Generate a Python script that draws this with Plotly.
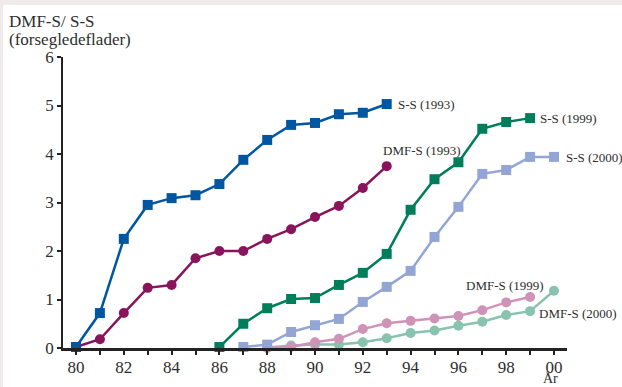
import plotly.graph_objects as go

# ---- data ----
years_a = list(range(80, 94))           # 1980..1993
ss_1993 = [0.02, 0.72, 2.25, 2.95, 3.09, 3.15, 3.38, 3.88, 4.29, 4.60, 4.64, 4.82, 4.85, 5.03]
dmf_1993 = [0.02, 0.18, 0.72, 1.24, 1.30, 1.85, 2.00, 2.00, 2.25, 2.45, 2.70, 2.93, 3.30, 3.75]

years_ss99 = list(range(86, 100))
ss_1999 = [0.02, 0.50, 0.82, 1.01, 1.03, 1.30, 1.55, 1.94, 2.85, 3.48, 3.83, 4.52, 4.66, 4.74]

years_ss00 = list(range(87, 101))
ss_2000 = [0.02, 0.07, 0.33, 0.47, 0.60, 0.95, 1.26, 1.59, 2.29, 2.91, 3.59, 3.67, 3.94, 3.94]

years_dmf99 = list(range(88, 100))
dmf_1999 = [0.0, 0.02, 0.12, 0.19, 0.39, 0.51, 0.56, 0.61, 0.66, 0.78, 0.94, 1.05]

years_dmf00 = list(range(88, 101))
dmf_2000 = [0.01, 0.05, 0.07, 0.07, 0.12, 0.20, 0.31, 0.36, 0.46, 0.54, 0.68, 0.76, 1.18]

tick_years = list(range(80, 101))
tick_text = [("%02d" % (y % 100)) if y % 2 == 0 else "" for y in tick_years]

series = [
    (years_dmf00, dmf_2000, "DMF-S (2000)", "#87c3af", "circle"),
    (years_dmf99, dmf_1999, "DMF-S (1999)", "#cf93b8", "circle"),
    (years_ss00, ss_2000, "S-S (2000)", "#92a5d5", "square"),
    (years_ss99, ss_1999, "S-S (1999)", "#007e5c", "square"),
    (years_a, dmf_1993, "DMF-S (1993)", "#89145c", "circle"),
    (years_a, ss_1993, "S-S (1993)", "#0056a0", "square"),
]

FONT = "Liberation Serif, Times New Roman, serif"
TXT = "#2e2e2e"
fig = go.Figure()
for xs, ys, name, col, sym in series:
    fig.add_trace(go.Scatter(
        x=xs, y=ys, mode="lines+markers", name=name,
        line=dict(color=col, width=2.5),
        marker=dict(color=col, symbol=sym, size=10, line=dict(width=0)),
        cliponaxis=False, showlegend=False,
    ))

# plot-area pixel helpers (plot area: x 63..567, y 57..348)
def px(xpix):
    return (xpix - 63) / 504

def py(ypix):
    return (348 - ypix) / 291

labels = [
    dict(x=px(396), y=py(104), text="S-S (1993)", xanchor="left"),
    dict(x=px(422), y=py(150), text="DMF-S (1993)", xanchor="center"),
    dict(x=px(538), y=py(118), text="S-S (1999)", xanchor="left"),
    dict(x=px(564), y=py(157), text="S-S (2000)", xanchor="left"),
    dict(x=px(505), y=py(285), text="DMF-S (1999)", xanchor="center"),
    dict(x=px(578), y=py(313), text="DMF-S (2000)", xanchor="center"),
]
for a in labels:
    fig.add_annotation(x=a["x"], y=a["y"], text=a["text"], xref="paper", yref="paper",
                       xanchor=a["xanchor"], yanchor="middle",
                       showarrow=False, font=dict(family=FONT, size=13, color=TXT))

# axis title (two lines) and "År"
fig.add_annotation(x=px(7), y=py(21), xref="paper", yref="paper", text="DMF-S/ S-S",
                   xanchor="left", yanchor="middle", showarrow=False,
                   font=dict(family=FONT, size=17, color=TXT))
fig.add_annotation(x=px(7), y=py(39), xref="paper", yref="paper", text="(forsegledeflader)",
                   xanchor="left", yanchor="middle", showarrow=False,
                   font=dict(family=FONT, size=17, color=TXT))
fig.add_annotation(x=px(550), y=py(387), xref="paper", yref="paper", text="År",
                   xanchor="center", yanchor="bottom", showarrow=False, borderpad=0,
                   font=dict(family=FONT, size=14, color=TXT))

# white page with gray band on top/left
fig.add_shape(type="rect", xref="paper", yref="paper", layer="below",
              x0=px(3), x1=px(640), y0=py(400), y1=py(5),
              fillcolor="white", line=dict(width=0))

fig.update_layout(
    width=622, height=387,
    margin=dict(l=63, r=55, t=57, b=39, autoexpand=False),
    paper_bgcolor="#efebea", plot_bgcolor="white",
    font=dict(family=FONT, size=17, color=TXT),
    xaxis=dict(range=[80 - 13 / 23.9, 100 + 13 / 23.9], tickvals=tick_years, ticktext=tick_text,
               ticks="outside", ticklen=4, tickwidth=1.5, tickcolor="#222222", automargin=False,
               ticklabelstandoff=-2,
               showline=True, linecolor="#222222", linewidth=2.5, showgrid=False, zeroline=False,
               tickfont=dict(family=FONT, size=17, color=TXT)),
    yaxis=dict(range=[0, 6], tickvals=[0, 1, 2, 3, 4, 5, 6], automargin=False,
               ticks="outside", ticklen=4, tickwidth=1.5, tickcolor="#222222",
               showline=True, linecolor="#222222", linewidth=1.5, showgrid=False, zeroline=False,
               tickfont=dict(family=FONT, size=17, color=TXT)),
)

fig.write_html("out.html", config={"displayModeBar": False},
               post_script="document.body.style.margin='0';document.body.style.overflow='hidden';")
